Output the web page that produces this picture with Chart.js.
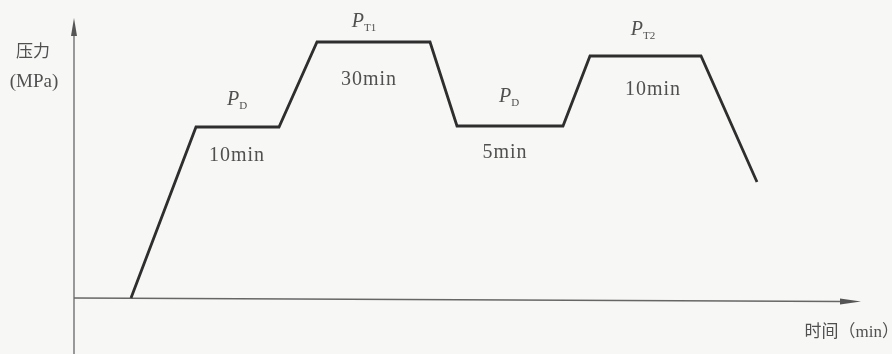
<!DOCTYPE html>
<html>
<head>
<meta charset="utf-8">
<script src="https://cdn.jsdelivr.net/npm/chart.js@4/dist/chart.umd.min.js"></script>
<style>
  html, body { margin: 0; padding: 0; background: #f7f7f5; }
  #wrap { width: 892px; height: 354px; }
</style>
</head>
<body>
<div id="wrap"><canvas id="myChart"></canvas></div>
<script>
// pressure-time schedule (schematic units, origin at the axes crossing)
var times = [5.7, 12.2, 20.5, 24.3, 35.6, 38.3, 48.9, 51.6, 62.7, 68.3];
var pressures = [0, 17.1, 17.1, 25.6, 25.6, 17.2, 17.2, 24.2, 24.2, 11.6];

// stage labels: pressure name + subscript, hold time
var stageNames = ['D', 'T1', 'D', 'T2'];
var holdTimes = ['10min', '30min', '5min', '10min'];
// label anchors (data units)
var nameAt = [[16.3, 19.8], [29.0, 27.6], [43.5, 20.1], [56.9, 26.8]];
var holdAt = [[16.3, 14.2], [29.5, 21.8], [43.1, 14.5], [57.9, 20.8]];

var yTitle = ['压力', '(MPa)'];
var xTitle = '时间（min）';

var points = times.map(function (t, i) { return { x: t, y: pressures[i] }; });

var serif = '"Liberation Serif", "Noto Sans CJK SC", serif';
var ink = '#505050';

var axesPlugin = {
  id: 'axes',
  beforeDatasetsDraw: function (chart) {
    var c = chart.ctx, xs = chart.scales.x, ys = chart.scales.y;
    var ox = xs.getPixelForValue(0), oy = ys.getPixelForValue(0);
    c.save();
    c.strokeStyle = '#666';
    c.fillStyle = '#555';
    c.lineWidth = 1.3;
    // y axis
    c.beginPath();
    c.moveTo(ox, chart.height);
    c.lineTo(ox, 34);
    c.stroke();
    c.beginPath();
    c.moveTo(ox, 18);
    c.lineTo(ox - 3, 36);
    c.lineTo(ox + 3, 36);
    c.closePath();
    c.fill();
    // x axis (scan is slightly tilted)
    c.beginPath();
    c.moveTo(ox, oy);
    c.lineTo(842, oy + 3.5);
    c.stroke();
    c.beginPath();
    c.moveTo(861, oy + 3.6);
    c.lineTo(840, oy + 0.5);
    c.lineTo(840, oy + 6.5);
    c.closePath();
    c.fill();
    c.restore();
  },
  afterDatasetsDraw: function (chart) {
    var c = chart.ctx, xs = chart.scales.x, ys = chart.scales.y;
    c.save();
    c.fillStyle = ink;
    c.textBaseline = 'middle';
    // axis titles
    c.textAlign = 'center';
    c.font = '17px ' + serif;
    c.fillText(yTitle[0], 33, 53);
    c.font = '19px ' + serif;
    c.fillText(yTitle[1], 34, 82);
    c.textAlign = 'right';
    c.font = '17px ' + serif;
    c.fillText(xTitle, 899, 333);
    // stage labels
    stageNames.forEach(function (sub, i) {
      var px = xs.getPixelForValue(nameAt[i][0]);
      var py = ys.getPixelForValue(nameAt[i][1]);
      c.font = 'italic 20px ' + serif;
      var pw = c.measureText('P').width;
      c.font = '11px ' + serif;
      var sw = c.measureText(sub).width;
      var left = px - (pw + sw) / 2;
      c.textAlign = 'left';
      c.font = 'italic 20px ' + serif;
      c.fillText('P', left, py);
      c.font = '11px ' + serif;
      c.fillText(sub, left + pw, py + 6);
      c.textAlign = 'center';
      c.font = '20px ' + serif;
      c.letterSpacing = '1px';
      c.fillText(holdTimes[i], xs.getPixelForValue(holdAt[i][0]), ys.getPixelForValue(holdAt[i][1]));
      c.letterSpacing = '0px';
    });
    c.restore();
  }
};

var ctx = document.getElementById('myChart').getContext('2d');
var myChart = new Chart(ctx, {
  type: 'line',
  data: {
    datasets: [{
      label: 'pressure',
      data: points,
      borderColor: '#2e2e2e',
      borderWidth: 2.8,
      pointRadius: 0,
      tension: 0,
      fill: false
    }]
  },
  options: {
    responsive: true,
    maintainAspectRatio: false,
    animation: false,
    layout: { padding: 0 },
    plugins: { legend: { display: false }, tooltip: { enabled: false } },
    scales: {
      x: { type: 'linear', display: false, min: -7.4, max: 81.8 },
      y: { type: 'linear', display: false, min: -5.6, max: 29.8 }
    }
  },
  plugins: [axesPlugin]
});
</script>
</body>
</html>
